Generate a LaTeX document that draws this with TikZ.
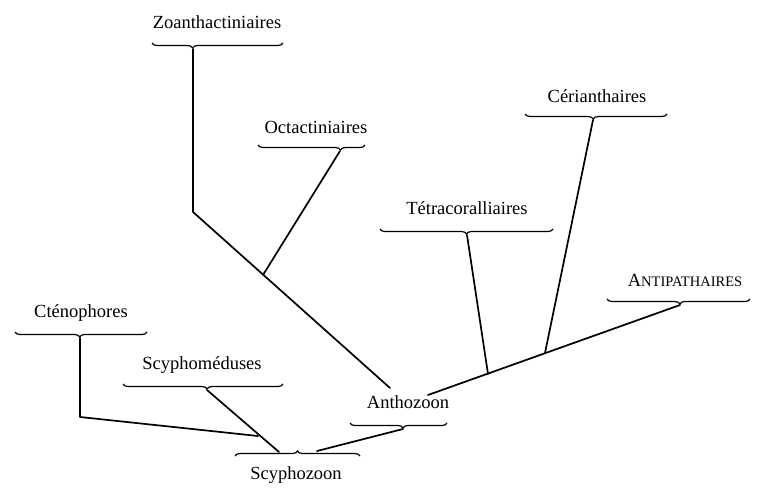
\documentclass[tikz,border=0pt]{standalone}
\usepackage{fontspec}
\setmainfont{Liberation Serif}
\usetikzlibrary{decorations.pathreplacing}
\begin{document}
\begin{tikzpicture}[x=1pt,y=-1pt,
  lab/.style={font=\fontsize{18.5}{20}\selectfont, inner sep=0pt, anchor=center},
  conn/.style={line width=1.7pt, line cap=round, line join=round},
  brcdown/.style={line width=1.2pt, decorate, decoration={brace, mirror, amplitude=5pt, aspect=#1}},
  brcup/.style={line width=1.2pt, decorate, decoration={brace, amplitude=5pt, aspect=#1}},
]
\useasboundingbox (0,0) rectangle (760,490);

% labels
\node[lab] (zoa) at (217,22) {Zoanthactiniaires};
\node[lab] (oct) at (316,127) {Octactiniaires};
\node[lab] (cer) at (597,96) {Cérianthaires};
\node[lab] (tet) at (467,208) {Tétracoralliaires};
\node[lab] (ant) at (685,280) {A{\fontsize{14.5}{16}\selectfont NTIPATHAIRES}};
\node[lab] (cte) at (81,313) {Cténophores};
\node[lab] (scm) at (202,365) {Scyphoméduses};
\node[lab] (scz) at (296,475) {Scyphozoon};
\node[lab] (anz) at (408,402) {Anthozoon};

% braces
\draw[brcdown=0.31] (152,43) -- (283,43);
\draw[brcdown=0.77] (258,145) -- (365,145);
\draw[brcdown=0.48] (525,114) -- (667,114);
\draw[brcdown=0.50] (380,229) -- (553,229);
\draw[brcdown=0.51] (607,299) -- (750,299);
\draw[brcdown=0.49] (15,332) -- (147,332);
\draw[brcdown=0.525] (123,384) -- (283,384);
\draw[brcup=0.5] (235,456) -- (360,456);
\draw[brcdown=0.546] (350,423) -- (447,423);

% connector points
\coordinate (zoaT) at (193,49);
\coordinate (zoaK) at (193,212);
\coordinate (anzL) at (390,388);
\coordinate (octT) at (340,151);
\coordinate (octJ) at (263,275);
\coordinate (cerT) at (593,120);
\coordinate (cerJ) at (545,353);
\coordinate (tetT) at (467,235);
\coordinate (tetJ) at (488,374);
\coordinate (antT) at (680,305);
\coordinate (anzR) at (428,395);
\coordinate (cteT) at (80,338);
\coordinate (cteK) at (80,417);
\coordinate (cteJ) at (258,436);
\coordinate (scmT) at (207,390);
\coordinate (sczL) at (279,452);
\coordinate (sczR) at (317,451);
\coordinate (anzT) at (403,429);

% connectors
\draw[conn] (zoaT) -- (zoaK) -- (anzL);
\draw[conn] (octT) -- (octJ);
\draw[conn] (antT) -- (anzR);
\draw[conn] (cerT) -- (cerJ);
\draw[conn] (tetT) -- (tetJ);
\draw[conn] (cteT) -- (cteK) -- (cteJ);
\draw[conn] (scmT) -- (sczL);
\draw[conn] (sczR) -- (anzT);
\end{tikzpicture}
\end{document}
